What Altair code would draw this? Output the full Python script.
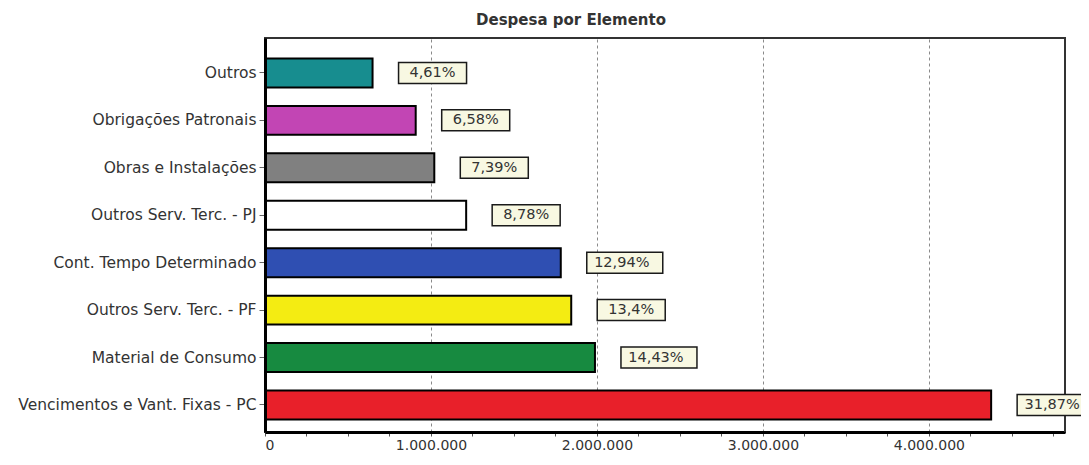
import altair as alt
import pandas as pd

categorias = [
    "Outros",
    "Obrigações Patronais",
    "Obras e Instalações",
    "Outros Serv. Terc. - PJ",
    "Cont. Tempo Determinado",
    "Outros Serv. Terc. - PF",
    "Material de Consumo",
    "Vencimentos e Vant. Fixas - PC",
]
valores = [648000, 908000, 1020000, 1212000, 1782000, 1845000, 1988000, 4375000]
percentuais = ["4,61%", "6,58%", "7,39%", "8,78%", "12,94%", "13,4%", "14,43%", "31,87%"]
cores = ["#178d8f", "#c245b4", "#808080", "#ffffff", "#2f4fb2", "#f4ec12", "#178a40", "#e8202a"]
X_MAX = 4820000
ticks_x = [i * 250000 for i in range(20)]

df = pd.DataFrame({"categoria": categorias, "valor": valores, "pct": percentuais, "cor": cores})

FONT = "DejaVu Sans"
W, H = 800, 394

y_enc = alt.Y(
    "categoria:N",
    sort=categorias,
    scale=alt.Scale(paddingInner=0.39, paddingOuter=0.348, align=0.62),
    axis=alt.Axis(
        title=None,
        labelFont=FONT,
        labelFontSize=15.5,
        labelColor="#333333",
        labelPadding=3,
        labelLimit=0,
        tickSize=6,
        tickColor="#666666",
        tickWidth=1,
        domainColor="black",
        domainWidth=3,
        zindex=1,
    ),
)

x_enc = alt.X(
    "valor:Q",
    scale=alt.Scale(domain=[0, X_MAX], nice=False, zero=True),
    axis=alt.Axis(
        title=None,
        values=[t for t in ticks_x if t <= X_MAX],
        labelExpr="datum.value % 1000000 === 0 ? replace(format(datum.value, ','), /,/g, '.') : ''",
        labelOverlap=False,
        labelFont=FONT,
        labelFontSize=14,
        labelColor="#333333",
        labelPadding=2,
        tickSize=4,
        tickColor="#555555",
        domainColor="black",
        domainWidth=3,
        grid=True,
        gridColor="#8a8a8a",
        gridDash=[3, 3],
        gridWidth=1,
        gridOpacity={"condition": {"test": "datum.value % 1000000 === 0", "value": 1}, "value": 0},
    ),
)

base = alt.Chart(df)

barras = base.mark_bar(stroke="black", strokeWidth=2).encode(
    y=y_enc,
    x=x_enc,
    color=alt.Color("cor:N", scale=None),
)

# right edge of the plot frame
borda = base.mark_rule(color="#333333", strokeWidth=2).encode(
    x=alt.X(datum=X_MAX),
    y=alt.value(0),
    y2=alt.value(H),
)


def rotulo(filtro, largura, deslocamento_texto):
    b = base.transform_filter(filtro)
    caixa = b.mark_bar(
        height=21,
        xOffset=26,
        x2Offset=26 + largura,
        fill="#f8f8e2",
        stroke="#1a1a1a",
        strokeWidth=1.5,
    ).encode(
        y=alt.Y("categoria:N", sort=categorias),
        x="valor:Q",
        x2="valor:Q",
    )
    texto = b.mark_text(
        dx=26 + deslocamento_texto,
        align="center",
        baseline="middle",
        font=FONT,
        fontSize=14.5,
        color="#333333",
    ).encode(
        y=alt.Y("categoria:N", sort=categorias),
        x="valor:Q",
        text="pct:N",
    )
    return caixa + texto


chart = (
    alt.layer(
        barras,
        borda,
        rotulo("length(datum.pct) <= 5", 68, 34),
        rotulo("length(datum.pct) > 5", 76, 35),
    )
    .properties(
        width=W,
        height=H,
        autosize="none",
        padding={"left": 257, "top": 30, "right": 16, "bottom": 20},
        title=alt.TitleParams(
            "Despesa por Elemento",
            font=FONT,
            fontSize=15,
            fontWeight="bold",
            color="#333333",
            anchor="middle",
            frame="group",
            dx=-94,
            offset=9,
        ),
    )
    .configure_view(stroke="#333333", strokeWidth=2)
)

chart.save("out.html", embed_options={"renderer": "svg", "actions": False})
